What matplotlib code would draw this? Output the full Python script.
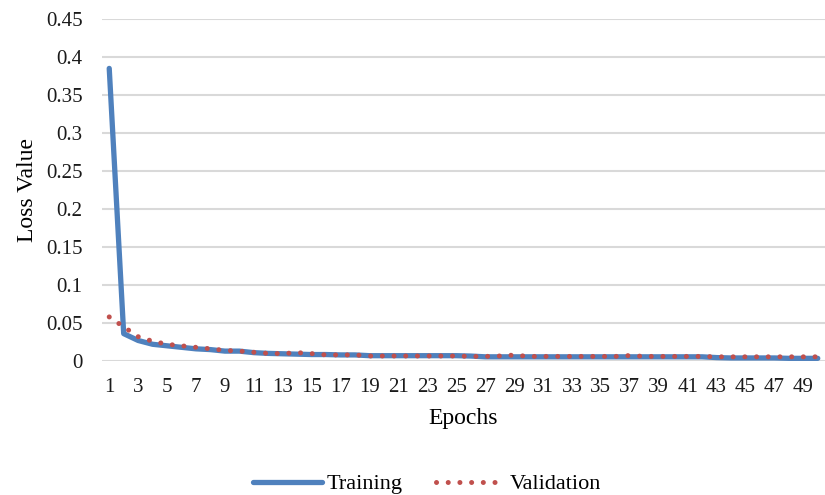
import matplotlib
matplotlib.use("Agg")
from matplotlib import pyplot as plt
import numpy as np

#DATA------------------------------------------
epochs = list(range(1, 51))
training = [0.385, 0.036, 0.027, 0.022, 0.020, 0.018, 0.016, 0.015, 0.013, 0.013,
            0.011, 0.010, 0.0095, 0.009, 0.0085, 0.0085, 0.008, 0.008, 0.007, 0.007,
            0.007, 0.007, 0.007, 0.007, 0.007, 0.0065, 0.0055, 0.0055, 0.0055, 0.0055,
            0.0055, 0.0055, 0.0055, 0.0055, 0.0055, 0.0055, 0.0055, 0.0055, 0.0055, 0.0055,
            0.0055, 0.0055, 0.0045, 0.004, 0.004, 0.004, 0.004, 0.0035, 0.0035, 0.0035]
validation = [0.058, 0.045, 0.032, 0.026, 0.022, 0.020, 0.018, 0.016, 0.014, 0.013,
              0.0115, 0.010, 0.0097, 0.011, 0.0097, 0.008, 0.008, 0.008, 0.0066, 0.0066,
              0.0066, 0.0066, 0.0066, 0.0066, 0.0066, 0.006, 0.006, 0.0066, 0.0078, 0.006,
              0.006, 0.006, 0.006, 0.006, 0.006, 0.006, 0.0072, 0.006, 0.006, 0.006,
              0.006, 0.006, 0.0055, 0.0055, 0.0055, 0.0055, 0.0055, 0.0055, 0.0055, 0.0055]
yticks = np.arange(0, 0.451, 0.05)
ylabels = ['0', '0.05', '0.1', '0.15', '0.2', '0.25', '0.3', '0.35', '0.4', '0.45']
#----------------------------------------------

plt.rcParams['font.family'] = ['Liberation Serif', 'DejaVu Serif']

fig = plt.figure(figsize=(8.25, 4.95), dpi=100)
# plot area: x 102..825, y 19..361 px
ax = fig.add_axes([102/825, (495-361)/495, 1 - 102/825, (361-19)/495])

ax.plot(epochs, training, color='#4F81BD', lw=3.8, solid_capstyle='round',
        solid_joinstyle='round', label='Training', zorder=3)
ax.plot(epochs, validation, color='#C0504D', lw=3.6, linestyle=(0, (0.01, 2.33)),
        dash_capstyle='round', label='Validation', zorder=4)

ax.set_xlim(0.5, 50.5)
ax.set_ylim(0, 0.45)
ax.set_yticks(yticks)
ax.set_yticklabels(ylabels)
ax.set_xticks(epochs[::2])
ax.tick_params(axis='both', length=0, labelsize=15, colors='#1a1a1a')
ax.tick_params(axis='x', pad=12)
ax.tick_params(axis='y', pad=14)
ax.grid(axis='y', color='#D9D9D9', lw=1.5)
ax.set_axisbelow(True)
for s in ax.spines.values():
    s.set_visible(False)

ax.set_ylabel('Loss Value', fontsize=17, labelpad=6)
ax.set_xlabel('Epochs', fontsize=17, labelpad=8)

fig.legend(loc='center', bbox_to_anchor=(427/825, 1 - 484/495), ncol=2, frameon=False,
           fontsize=16, handlelength=3.1, handletextpad=0.2, columnspacing=1.5,
           borderpad=0)

fig.savefig('out.png', dpi=100)
